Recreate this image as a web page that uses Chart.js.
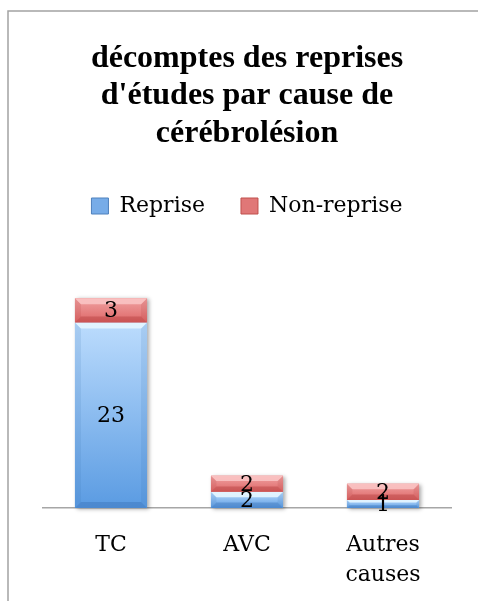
<!DOCTYPE html>
<html>
<head>
<meta charset="utf-8">
<script src="https://cdn.jsdelivr.net/npm/chart.js@4"></script>
<style>
  html, body { margin: 0; padding: 0; background: #fff; }
  #wrap { position: relative; width: 478px; height: 601px; }
</style>
</head>
<body>
<div id="wrap"><canvas id="chart" width="478" height="601"></canvas></div>
<script>
// données
const categories = ["TC", "AVC", ["Autres", "causes"]];
const reprise = [23, 2, 1];
const nonReprise = [3, 2, 2];
const seriesNames = ["Reprise", "Non-reprise"];
const titleLines = ["décomptes des reprises", "d'études par cause de", "cérébrolésion"];

// couleurs façon "biseau" Excel
const palettes = [
  { body: "#7fb2ec", light: "#bcdcfd", dark: "#5a9be2", top: "rgba(228,245,255,0.92)", bottom: "rgba(55,110,180,0.4)", side: "rgba(60,110,180,0.14)", legend: "#77ace8", stroke: "#4f81bd" },
  { body: "#e27474", light: "#f0a2a2", dark: "#de6767", top: "rgba(250,198,198,0.85)", bottom: "rgba(165,45,45,0.33)", side: "rgba(160,40,40,0.12)", legend: "#e07777", stroke: "#c0504d" },
];

const poly = (ctx, pts, color) => {
  ctx.beginPath();
  ctx.moveTo(pts[0][0], pts[0][1]);
  pts.slice(1).forEach(p => ctx.lineTo(p[0], p[1]));
  ctx.closePath();
  ctx.fillStyle = color;
  ctx.fill();
};

const barRect = (el) => {
  const { x, y, base, width } = el.getProps(["x", "y", "base", "width"], true);
  return { l: x - width / 2, r: x + width / 2, t: Math.min(y, base), b: Math.max(y, base), x, w: width };
};

// cadre gris du graphique
const frame = {
  id: "frame",
  beforeDraw(chart) {
    const ctx = chart.ctx;
    ctx.save();
    ctx.strokeStyle = "#a3a3a3";
    ctx.lineWidth = 1.5;
    ctx.beginPath();
    ctx.moveTo(8, chart.height);
    ctx.lineTo(8, 11);
    ctx.lineTo(chart.width, 11);
    ctx.stroke();
    ctx.restore();
  },
};

const bevel = {
  id: "bevel",
  beforeDatasetsDraw(chart) {
    // ombre légère à droite des colonnes
    const ctx = chart.ctx;
    const low = chart.getDatasetMeta(0).data;
    const high = chart.getDatasetMeta(1).data;
    ctx.save();
    low.forEach((el, i) => {
      const a = barRect(el);
      const t = barRect(high[i]).t;
      ctx.shadowColor = "rgba(0,0,0,0.35)";
      ctx.shadowBlur = 4;
      ctx.shadowOffsetX = 2;
      ctx.shadowOffsetY = 1;
      ctx.fillStyle = "#fff";
      ctx.fillRect(a.l, t, a.w, a.b - t);
    });
    ctx.restore();
  },
  afterDatasetsDraw(chart) {
    const ctx = chart.ctx;
    ctx.save();
    chart.data.datasets.forEach((ds, di) => {
      const pal = palettes[di];
      chart.getDatasetMeta(di).data.forEach(el => {
        const { l, r, t, b, w } = barRect(el);
        const h = b - t;
        if (h <= 0) return;
        const e = Math.min(6, h / 3);
        const g = ctx.createLinearGradient(0, t, 0, b);
        g.addColorStop(0, pal.light);
        g.addColorStop(1, pal.dark);
        ctx.fillStyle = g;
        ctx.fillRect(l, t, w, h);
        poly(ctx, [[l, t], [l + e, t + e], [l + e, b - e], [l, b]], pal.side);
        poly(ctx, [[r, t], [r - e, t + e], [r - e, b - e], [r, b]], pal.side);
        poly(ctx, [[l, t], [r, t], [r - e, t + e], [l + e, t + e]], pal.top);
        poly(ctx, [[l, b], [r, b], [r - e, b - e], [l + e, b - e]], pal.bottom);
      });
    });

    // étiquettes de valeurs au centre de chaque segment
    ctx.font = "22px 'DejaVu Serif'";
    ctx.fillStyle = "#000";
    ctx.textAlign = "center";
    ctx.textBaseline = "middle";
    chart.data.datasets.forEach((ds, di) => {
      chart.getDatasetMeta(di).data.forEach((el, i) => {
        const { x, t, b } = barRect(el);
        ctx.fillText(String(ds.data[i]), x, (t + b) / 2 + 1);
      });
    });
    ctx.restore();
  },
};

// place sous la légende avant la zone de tracé
const legendSpace = {
  id: "legendSpace",
  beforeInit(chart) {
    const fit = chart.legend.fit;
    chart.legend.fit = function () {
      fit.bind(chart.legend)();
      this.height = 107;
    };
  },
};

new Chart(document.getElementById("chart"), {
  type: "bar",
  data: {
    labels: categories,
    datasets: [
      { label: seriesNames[0], data: reprise, backgroundColor: palettes[0].body, borderWidth: 0 },
      { label: seriesNames[1], data: nonReprise, backgroundColor: palettes[1].body, borderWidth: 0 },
    ],
  },
  options: {
    responsive: false,
    animation: false,
    events: [],
    layout: { padding: { left: 16, right: 0, top: 0, bottom: 0 } },
    datasets: { bar: { categoryPercentage: 1, barPercentage: 0.53 } },
    plugins: {
      tooltip: { enabled: false },
      title: {
        display: true,
        text: titleLines,
        color: "#000",
        font: { family: "'Liberation Serif'", size: 32, weight: "bold", lineHeight: 1.172 },
        padding: { top: 39.5, bottom: 7 },
      },
      legend: {
        display: true,
        position: "top",
        labels: {
          color: "#000",
          font: { family: "'DejaVu Serif'", size: 22 },
          boxWidth: 17,
          boxHeight: 16,
          padding: 36,
          generateLabels: chart => chart.data.datasets.map((ds, i) => ({
            text: ds.label,
            fillStyle: palettes[i].legend,
            strokeStyle: palettes[i].stroke,
            lineWidth: 1,
            hidden: false,
            datasetIndex: i,
            fontColor: "#000",
          })),
        },
      },
    },
    scales: {
      x: {
        stacked: true,
        grid: { display: false, drawTicks: false },
        border: { display: true, color: "#a6a6a6", width: 1.5 },
        ticks: {
          color: "#000",
          font: { family: "'DejaVu Serif'", size: 22, lineHeight: 1.36 },
          padding: 22,
          maxRotation: 0,
          autoSkip: false,
        },
        afterFit: s => { s.height = 93; },
      },
      y: {
        stacked: true,
        min: 0,
        max: 30,
        grid: { display: false },
        border: { display: false },
        ticks: { display: false },
        afterFit: s => { s.width = 27; },
      },
      yR: {
        type: "linear",
        position: "right",
        display: true,
        grid: { display: false },
        border: { display: false },
        ticks: { display: false },
        afterFit: s => { s.width = 27; },
      },
    },
  },
  plugins: [frame, bevel, legendSpace],
});
</script>
</body>
</html>
